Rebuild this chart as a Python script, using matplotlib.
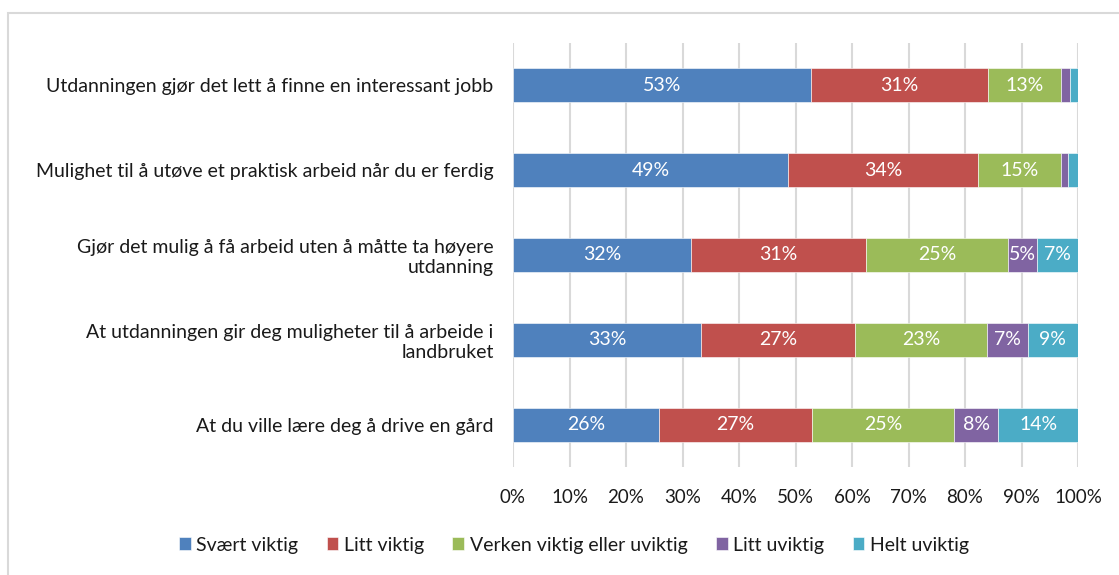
import matplotlib.pyplot as plt
from matplotlib.patches import Rectangle
import numpy as np

plt.rcParams['font.family'] = ['Lato', 'DejaVu Sans']

categories = [
    'Utdanningen gjør det lett å finne en interessant jobb',
    'Mulighet til å utøve et praktisk arbeid når du er ferdig',
    'Gjør det mulig å få arbeid uten å måtte ta høyere\nutdanning',
    'At utdanningen gir deg muligheter til å arbeide i\nlandbruket',
    'At du ville lære deg å drive en gård',
]
series_names = ['Svært viktig', 'Litt viktig', 'Verken viktig eller uviktig',
                'Litt uviktig', 'Helt uviktig']
svaert_viktig = [52.7, 48.7, 31.5, 33.3, 25.8]
litt_viktig = [31.4, 33.6, 31.0, 27.2, 27.1]
verken = [12.9, 14.7, 25.1, 23.4, 25.1]
litt_uviktig = [1.6, 1.2, 5.1, 7.2, 7.9]
helt_uviktig = [1.4, 1.8, 7.3, 8.9, 14.1]
x_ticks = [0, 10, 20, 30, 40, 50, 60, 70, 80, 90, 100]

colours = ['#4F81BD', '#C0504D', '#9BBB59', '#8064A2', '#4BACC6']
series = [svaert_viktig, litt_viktig, verken, litt_uviktig, helt_uviktig]
text_colour = '#1a1a1a'

fig = plt.figure(figsize=(11.19, 5.75), dpi=100)
ax = fig.add_axes([513 / 1119, 1 - 467 / 575, 565 / 1119, 424 / 575])

# outer chart frame
fig.patches.append(Rectangle((8 / 1119, -0.1), 1.2, 1 - 13 / 575 + 0.1,
                             transform=fig.transFigure, fill=False,
                             edgecolor='#d9d9d9', linewidth=1.5))

y = np.arange(len(categories))
left = np.zeros(len(categories))
for name, vals, c in zip(series_names, series, colours):
    vals = np.array(vals)
    ax.barh(y, vals, left=left, height=0.4, color=c, label=name,
            edgecolor='white', linewidth=0.4, zorder=3)
    for yi, l, v in zip(y, left, vals):
        if v >= 4.5:
            ax.text(l + v / 2, yi, f'{round(v):.0f}%', ha='center', va='center',
                    color='white', fontsize=14, zorder=4)
    left += vals

ax.set_xlim(0, 100)
ax.set_ylim(4.5, -0.5)
ax.set_yticks(y)
ax.set_yticklabels(categories, fontsize=14, color=text_colour)
ax.set_xticks(x_ticks)
ax.set_xticklabels([f'{t}%' for t in x_ticks], fontsize=13.5, color=text_colour)
ax.tick_params(axis='both', length=0)
ax.tick_params(axis='x', pad=16)
ax.tick_params(axis='y', pad=14)
ax.grid(axis='x', color='#d9d9d9', linewidth=1.5, zorder=0)
for s in ax.spines.values():
    s.set_visible(False)

ax.legend(loc='center', bbox_to_anchor=(574 / 1119, 1 - 545 / 575),
          bbox_transform=fig.transFigure, ncol=5, frameon=False,
          fontsize=14, handlelength=0.6, handleheight=0.6,
          handletextpad=0.3, columnspacing=1.45, labelcolor=text_colour)

fig.savefig('out.png', dpi=100)
